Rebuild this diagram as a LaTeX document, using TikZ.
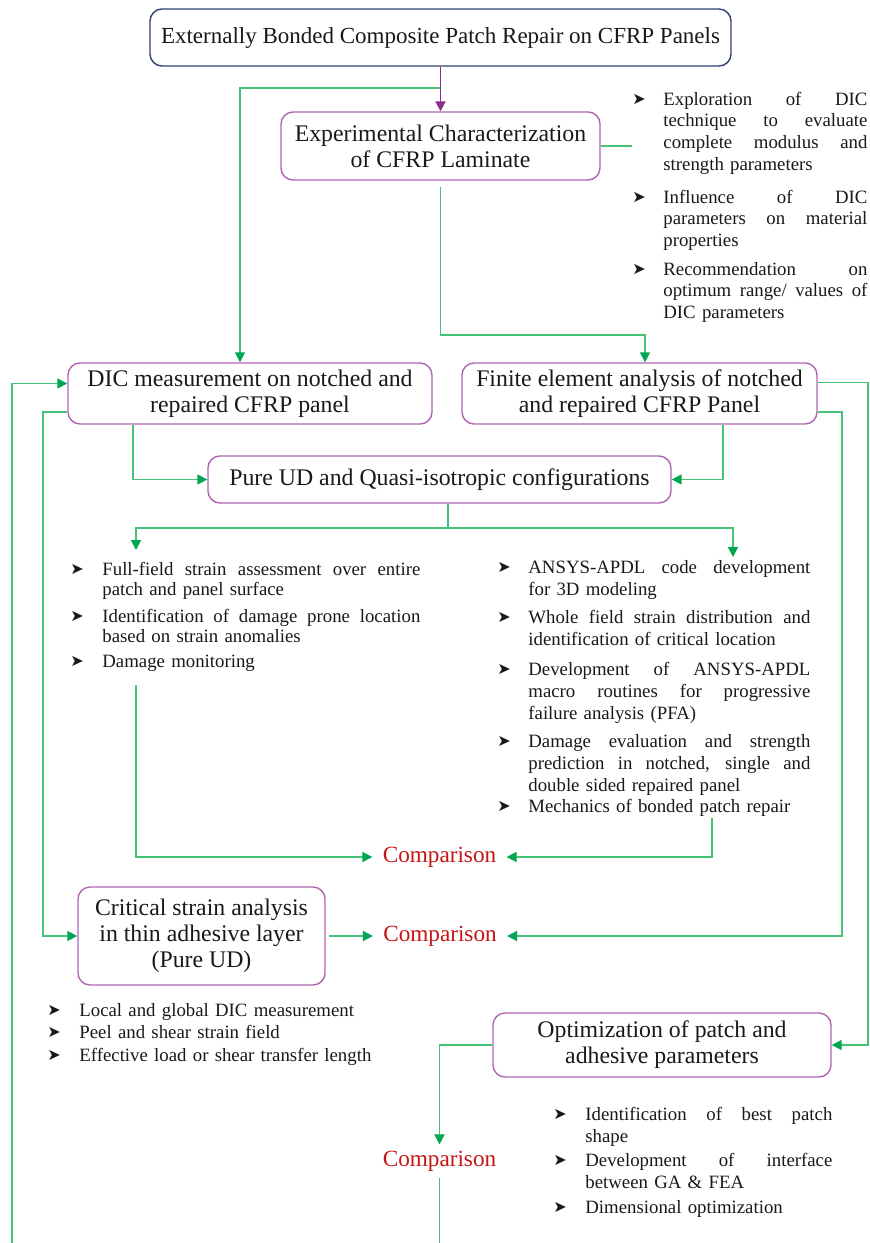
\documentclass[tikz,border=0pt]{standalone}
\usepackage{fontspec}
\setmainfont{Liberation Serif}
\newfontfamily\symfont{DejaVu Sans}
\usetikzlibrary{arrows.meta,calc}

\definecolor{lgreen}{RGB}{70,195,120}
\definecolor{agreen}{RGB}{0,166,81}
\definecolor{pbox}{RGB}{178,100,178}
\definecolor{parr}{RGB}{140,45,140}
\definecolor{navy}{RGB}{47,65,112}
\definecolor{cred}{RGB}{200,20,20}
\definecolor{ink}{RGB}{25,25,25}

% bullet lists: hanging bullet, justified inner lines, natural last line
\newlength\bi
\newlength\tw
\newcommand\bul{\raisebox{0.3pt}{\symfont\fontsize{8}{8}\selectfont ➤}}
\newcommand\jfirst[1]{\makebox[\bi][l]{\bul}\makebox[\tw][s]{\spaceskip=0pt\xspaceskip=0pt #1}}
\newcommand\jmid[1]{\hspace*{\bi}\makebox[\tw][s]{\spaceskip=0pt\xspaceskip=0pt #1}}
\newcommand\jlast[1]{\hspace*{\bi}#1}
\newcommand\jone[1]{\makebox[\bi][l]{\bul}#1}

\tikzset{
  box/.style={draw=pbox, line width=0.7pt, rounded corners=6pt, fill=white,
    align=center, inner sep=0pt, text=ink, font=\fontsize{11.9}{13}\selectfont},
  cmp/.style={text=cred, font=\fontsize{11.6}{13}\selectfont, inner xsep=5pt, inner ysep=3pt},
  item/.style={anchor=base west, inner sep=0pt, align=left, text=ink},
  listA/.style={item, text width=117.5pt,
    font={\fontsize{9.4}{10.85}\selectfont\setlength\bi{15.5pt}\setlength\tw{102pt}}},
  listB/.style={item, text width=175pt,
    font={\fontsize{9.4}{10}\selectfont\setlength\bi{16pt}\setlength\tw{159pt}}},
  listC/.style={item, text width=156.5pt,
    font={\fontsize{9.4}{11}\selectfont\setlength\bi{15.5pt}\setlength\tw{141pt}}},
  listD/.style={item, text width=180pt,
    font={\fontsize{9.4}{11}\selectfont\setlength\bi{16pt}\setlength\tw{160pt}}},
  listE/.style={item, text width=139.5pt,
    font={\fontsize{9.4}{11}\selectfont\setlength\bi{16pt}\setlength\tw{123.5pt}}},
  gline/.style={draw=lgreen, line width=0.8pt},
  garrow/.style={gline, -{Triangle[length=5pt,width=5pt,color=agreen]}},
  parrow/.style={draw=parr, line width=0.9pt, -{Triangle[length=5pt,width=5pt]}}
}

\begin{document}
\begin{tikzpicture}[x=0.5pt,y=-0.5pt]
\fill[white] (0,0) rectangle (869,1243);
\useasboundingbox (0,0) rectangle (869,1243);

% ---- boxes ----
\node[box, draw=navy, minimum width=290.5pt, minimum height=28.5pt,
      font=\fontsize{11.5}{13}\selectfont] (top) at (440.5,37.5)
  {Externally Bonded Composite Patch Repair on CFRP Panels};
\node[box, minimum width=159.5pt, minimum height=34pt] (exp) at (440.5,146)
  {Experimental Characterization\\of CFRP Laminate};
\node[box, minimum width=182pt, minimum height=30.5pt] (dic) at (250,393.5)
  {DIC measurement on notched and\\repaired CFRP panel};
\node[box, minimum width=177.5pt, minimum height=30.5pt] (fe) at (639.5,393.5)
  {Finite element analysis of notched\\and repaired CFRP Panel};
\node[box, minimum width=231.5pt, minimum height=23.5pt] (pure) at (439.5,479.5)
  {Pure UD and Quasi-isotropic configurations};
\node[box, minimum width=123.5pt, minimum height=49pt] (crit) at (201.5,936)
  {Critical strain analysis\\in thin adhesive layer\\(Pure UD)};
\node[box, minimum width=169pt, minimum height=32pt] (opt) at (662,1045)
  {Optimization of patch and\\adhesive parameters};

\node[cmp] (cmp1) at (439.5,857) {Comparison};
\node[cmp] (cmp2) at (440,936) {Comparison};
\node[cmp] (cmp3) at (439.5,1161) {Comparison};

% ---- bullet lists ----
\node[listA] (a1) at (632,105) {\jfirst{Exploration of DIC}\\\jmid{technique to evaluate}\\\jmid{complete modulus and}\\\jlast{strength parameters}};
\node[listA] (a2) at (632,203) {\jfirst{Influence of DIC}\\\jmid{parameters on material}\\\jlast{properties}};
\node[listA] (a3) at (632,275) {\jfirst{Recommendation on}\\\jmid{optimum range/ values of}\\\jlast{DIC parameters}};

\node[listB] (b1) at (70,575) {\jfirst{Full-field strain assessment over entire}\\\jlast{patch and panel surface}};
\node[listB] (b2) at (70,622) {\jfirst{Identification of damage prone location}\\\jlast{based on strain anomalies}};
\node[listB] (b3) at (70,667) {\jone{Damage monitoring}};

\node[listC] (c1) at (497,573) {\jfirst{ANSYS-APDL code development}\\\jlast{for 3D modeling}};
\node[listC] (c2) at (497,623) {\jfirst{Whole field strain distribution and}\\\jlast{identification of critical location}};
\node[listC] (c3) at (497,675) {\jfirst{Development of ANSYS-APDL}\\\jmid{macro routines for progressive}\\\jlast{failure analysis (PFA)}};
\node[listC] (c4) at (497,747) {\jfirst{Damage evaluation and strength}\\\jmid{prediction in notched, single and}\\\jlast{double sided repaired panel}};
\node[listC] (c5) at (497,812) {\jone{Mechanics of bonded patch repair}};

\node[listD] (d1) at (47,1016) {\jone{Local and global DIC measurement}};
\node[listD] (d2) at (47,1038) {\jone{Peel and shear strain field}};
\node[listD] (d3) at (47,1061) {\jone{Effective load or shear transfer length}};

\node[listE] (e1) at (553,1120) {\jfirst{Identification of best patch}\\\jlast{shape}};
\node[listE] (e2) at (553,1166) {\jfirst{Development of interface}\\\jlast{between GA \& FEA}};
\node[listE] (e3) at (553,1213) {\jone{Dimensional optimization}};

% ---- routing points ----
\coordinate (tsplit) at (440.5,88);
\coordinate (ebend) at (0,335);
\coordinate (xL1) at (12,1243);
\coordinate (xL2) at (43,0);
\coordinate (xR1) at (868,0);
\coordinate (xR2) at (842,0);
\coordinate (xD) at (133,0);
\coordinate (xF) at (723,0);
\coordinate (psplit) at (448,528);
\coordinate (bIn) at (136,550);
\coordinate (cIn) at (733,557);
\coordinate (bOut) at (136,685);
\coordinate (cOut) at (712,818);
\coordinate (dicin) at ([xshift=-5pt]dic.north);
\coordinate (fein) at ([xshift=2.75pt]fe.north);
\coordinate (expout) at ([yshift=-3pt]exp.south);
\coordinate (dicL2) at ([yshift=-9.25pt]dic.west);
\coordinate (feR1) at ([yshift=5.5pt]fe.east);
\coordinate (feR2) at ([yshift=-9.25pt]fe.east);

% ---- connectors ----
\draw[garrow] (tsplit) -| (dicin);
\draw[parrow] (top.south) -- (exp.north);
\draw[gline] (exp.east) -- (exp.east -| a1.west);
\draw[garrow] (expout) -- (expout |- ebend) -| (fein);
\draw[garrow] (xL1) |- ([yshift=5pt]dic.west);
\draw[garrow] (dicL2) -- (dicL2 -| xL2) |- (crit.west);
\draw[garrow] (feR1) -- (feR1 -| xR1) |- (opt.east);
\draw[garrow] (feR2) -- (feR2 -| xR2) |- (cmp2.east);
\draw[garrow] (dic.south -| xD) |- (pure.west);
\draw[garrow] (fe.south -| xF) |- (pure.east);
\draw[gline] (pure.south -| psplit) -- (psplit);
\draw[garrow] (psplit) -| (bIn);
\draw[garrow] (psplit) -| (cIn);
\draw[garrow] (bOut) |- (cmp1.west);
\draw[garrow] (cOut) |- (cmp1.east);
\draw[garrow] ([xshift=1.5pt]crit.east) -- (cmp2.west);
\draw[garrow] (opt.west) -| (cmp3.north);
\draw[gline] (cmp3.south) -- (cmp3.south |- xL1);
\end{tikzpicture}
\end{document}
